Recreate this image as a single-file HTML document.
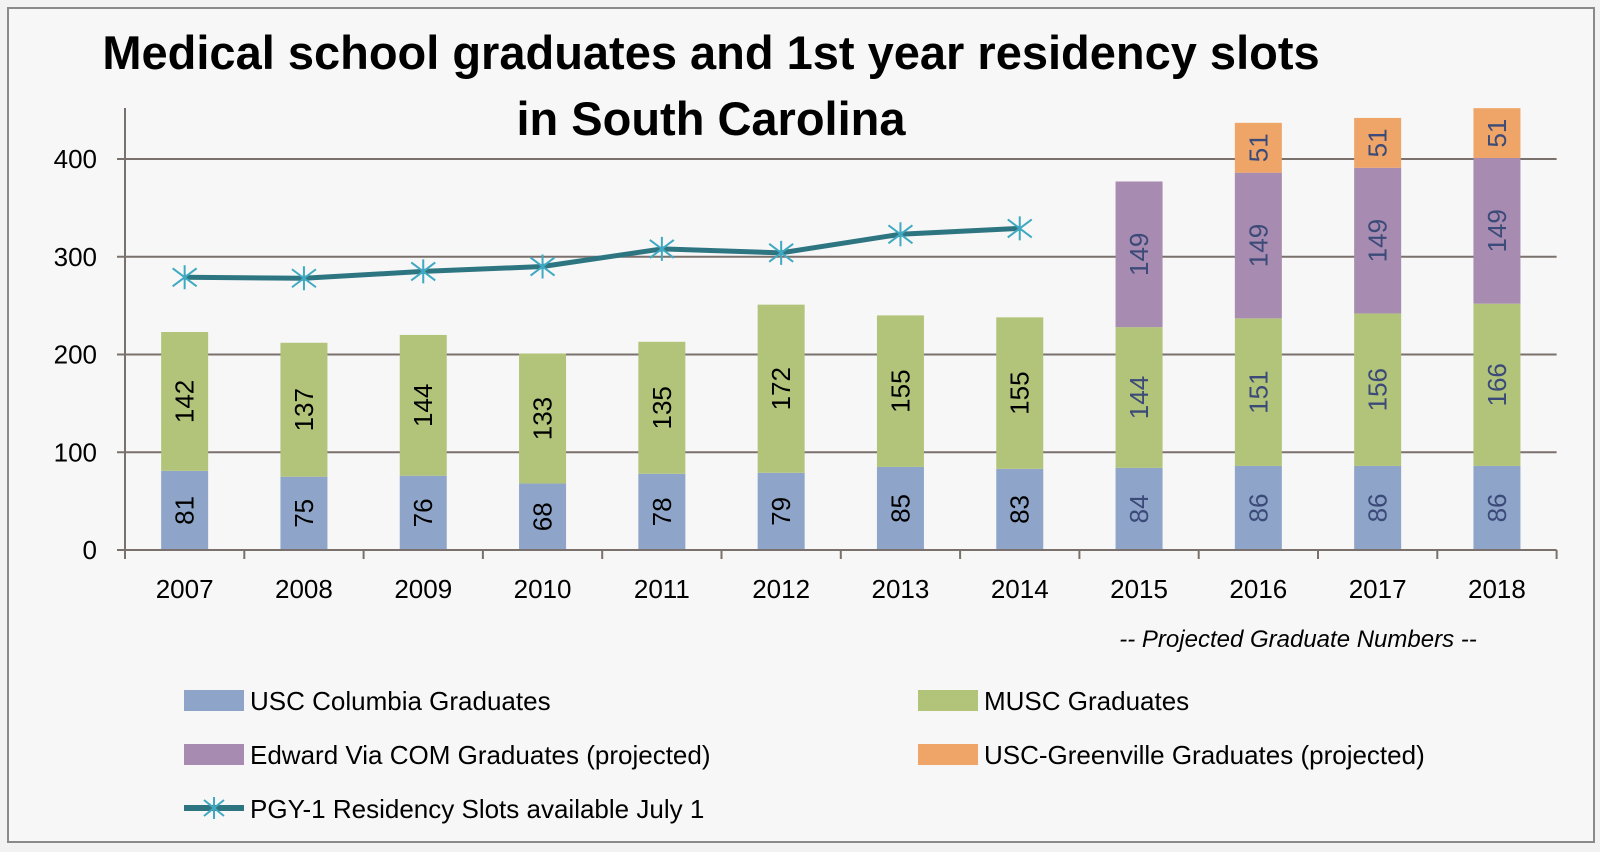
<!DOCTYPE html>
<html><head><meta charset="utf-8"><style>
body{margin:0;background:#fff;}
svg{display:block;font-family:"Liberation Sans",sans-serif;}
</style></head><body>
<svg id="chart" width="1600" height="852">
<rect x="0" y="0" width="1600" height="852" fill="#f2f2f2"/>
<rect x="8" y="8" width="1586" height="834" fill="#f7f7f7" stroke="#8a8a8a" stroke-width="2"/>
<text x="711" y="69" text-anchor="middle" font-size="47" font-weight="bold" fill="#000">Medical school graduates and 1st year residency slots</text>
<text x="711" y="135" text-anchor="middle" font-size="47" font-weight="bold" fill="#000">in South Carolina</text>
<g id="grid"></g><g id="bars"></g><g id="line"></g><g id="axes"></g>
<text x="1298" y="647" text-anchor="middle" font-size="24" font-style="italic" fill="#000">-- Projected Graduate Numbers --</text>
<g>
<rect x="184" y="690" width="60" height="21" fill="#8ea5c9"/>
<text x="250" y="710" font-size="26">USC Columbia Graduates</text>
<rect x="918" y="690" width="60" height="21" fill="#b2c47a"/>
<text x="984" y="710" font-size="26">MUSC Graduates</text>
<rect x="184" y="744" width="60" height="21" fill="#a78bb0"/>
<text x="250" y="764" font-size="26">Edward Via COM Graduates (projected)</text>
<rect x="918" y="744" width="60" height="21" fill="#efa567"/>
<text x="984" y="764" font-size="26">USC-Greenville Graduates (projected)</text>
<line x1="184" y1="808" x2="244" y2="808" stroke="#2e7582" stroke-width="6"/>
<path d="M214 797V819M204 800L224 816M204 816L224 800" stroke="#3fa9c2" stroke-width="2"/>
<text x="250" y="818" font-size="26">PGY-1 Residency Slots available July 1</text>
</g>
</svg>
<script>
const years=["2007","2008","2009","2010","2011","2012","2013","2014","2015","2016","2017","2018"];
const usc=[81,75,76,68,78,79,85,83,84,86,86,86];
const musc=[142,137,144,133,135,172,155,155,144,151,156,166];
const edward=[0,0,0,0,0,0,0,0,149,149,149,149];
const greenville=[0,0,0,0,0,0,0,0,0,51,51,51];
const slots=[279,278,285,290,308,304,323,329];
const yTicks=[0,100,200,300,400];
const NS="http://www.w3.org/2000/svg";
const x0=125,step=119.3,y0=550,pxPer=0.9775,bw=47;
const xc=i=>x0+step*(i+0.5);
const y=v=>y0-v*pxPer;
function mk(p,t,a){const e=document.createElementNS(NS,t);for(const k in a)e.setAttribute(k,a[k]);p.appendChild(e);return e;}
const G=document.getElementById('grid'),B=document.getElementById('bars'),L=document.getElementById('line'),A=document.getElementById('axes');
yTicks.forEach(t=>{
 if(t>0){const g=mk(G,'line',{x1:x0,x2:x0+step*12,y1:y(t),y2:y(t),stroke:'#7a716c','stroke-width':2});
 
 }
 const tk=mk(A,'line',{x1:x0-8,x2:x0,y1:y(t),y2:y(t),stroke:'#7a716c','stroke-width':2});
 
 
 const tx=mk(A,'text',{x:x0-28,y:y(t)+9,'text-anchor':'end','font-size':26});tx.textContent=t;
 
 
});
const ya=mk(A,'line',{x1:x0,x2:x0,y1:y0,y2:108,stroke:'#7a716c','stroke-width':2});


const xa=mk(A,'line',{x1:x0,x2:x0+step*12,y1:y0,y2:y0,stroke:'#7a716c','stroke-width':2});


for(let i=0;i<=12;i++){const t=mk(A,'line',{x1:x0+step*i,x2:x0+step*i,y1:y0,y2:y0+9,stroke:'#7a716c','stroke-width':2});
 
 }
const series=[[usc,'#8ea5c9','usc'],[musc,'#b2c47a','musc'],[edward,'#a78bb0','edward'],[greenville,'#efa567','greenville']];
years.forEach((yr,i)=>{
 let base=0;
 series.forEach(([arr,col,nm])=>{
  const v=arr[i];if(!v)return;
  const r=mk(B,'rect',{x:xc(i)-bw/2,y:y(base+v),width:bw,height:v*pxPer,fill:col});
  
  
  const cy=y(base+v/2),cx=xc(i);
  const t=mk(B,'text',{x:cx,y:cy,'text-anchor':'middle','dominant-baseline':'central','font-size':26,fill:i>=8?'#3b4a78':'#000',transform:`rotate(-90 ${cx} ${cy})`});
  t.textContent=v;
  
  
  base+=v;
 });
 const xl=mk(A,'text',{x:xc(i),y:y0+48,'text-anchor':'middle','font-size':26});xl.textContent=yr;
 
 
});
const pl=mk(L,'polyline',{points:slots.map((v,i)=>xc(i)+','+y(v)).join(' '),fill:'none',stroke:'#2e7582','stroke-width':5,'stroke-linejoin':'round'});


slots.forEach((v,i)=>{
 const cx=xc(i),cy=y(v);
 const m=mk(L,'path',{d:`M${cx} ${cy-12}V${cy+12}M${cx-12} ${cy-9}L${cx+12} ${cy+9}M${cx-12} ${cy+9}L${cx+12} ${cy-9}`,stroke:'#3fa9c2','stroke-width':2});
 
 
});
</script>
</body></html>
